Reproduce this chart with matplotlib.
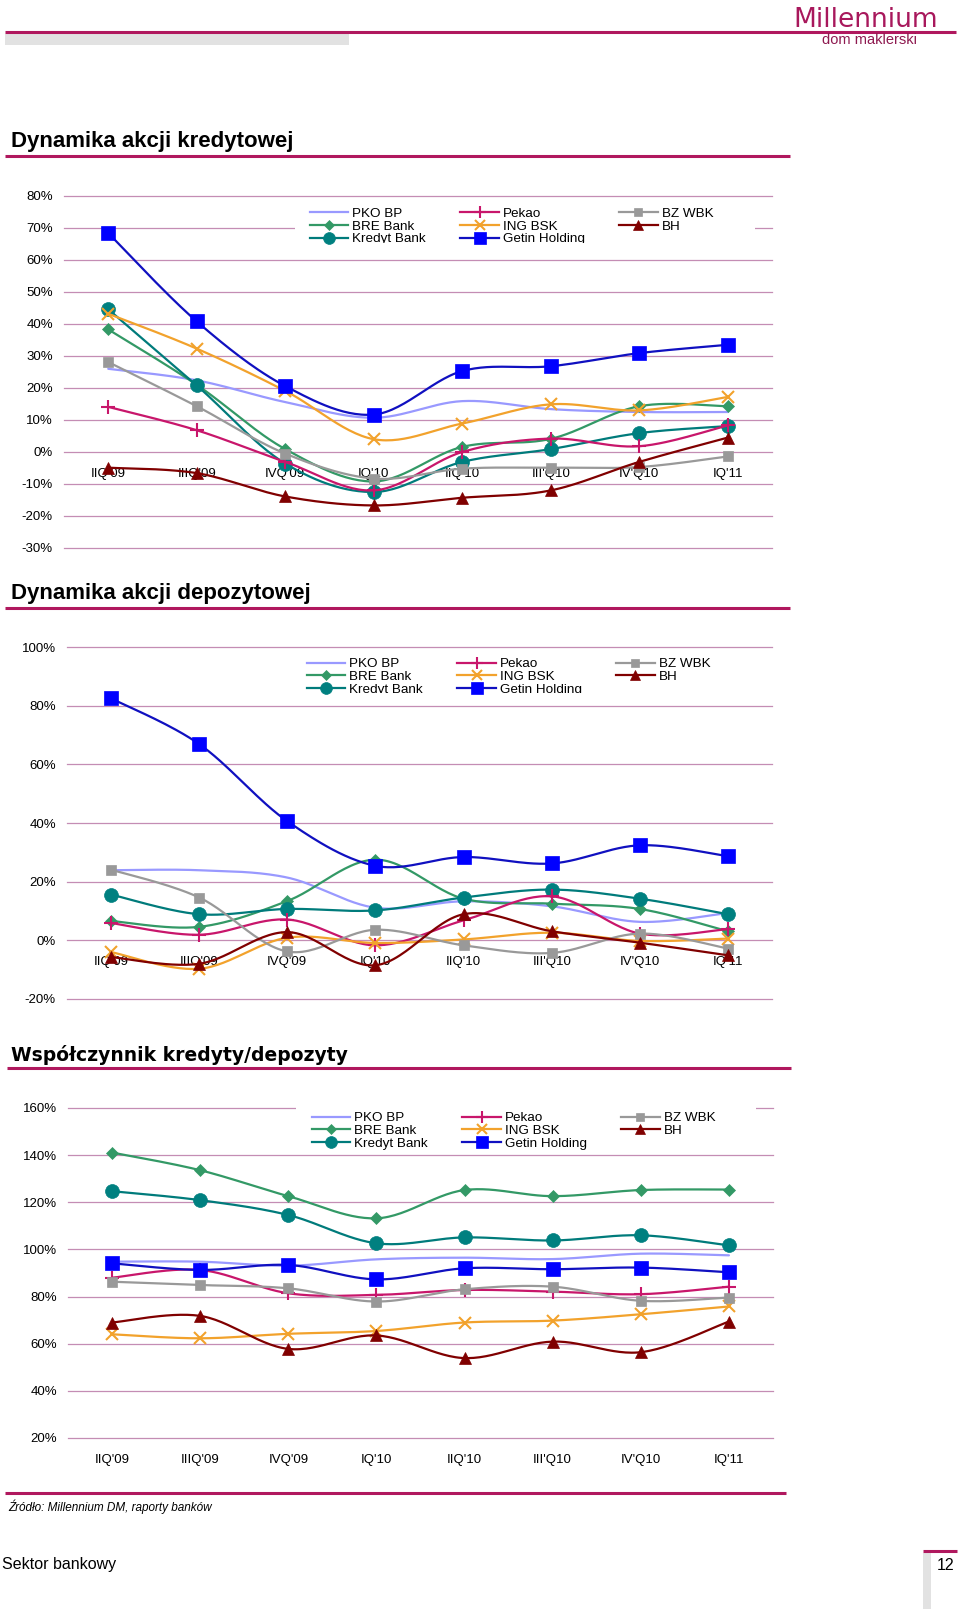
import matplotlib
matplotlib.use("Agg")
import matplotlib.pyplot as plt
import numpy as np
from matplotlib.lines import Line2D
from matplotlib.patches import Rectangle
from matplotlib.transforms import Bbox, TransformedBbox

plt.rcParams['font.family'] = ['Liberation Sans', 'DejaVu Sans']

quarters = ["IIQ'09", "IIIQ'09", "IVQ'09", "IQ'10", "IIQ'10", "III'Q10", "IV'Q10", "IQ'11"]
banks = ["PKO BP", "BRE Bank", "Kredyt Bank", "Pekao", "ING BSK", "Getin Holding", "BZ WBK", "BH"]

# Chart 1: Dynamika akcji kredytowej (%)
pko1 = [26.0, 22.4, 15.6, 10.7, 15.9, 13.4, 12.5, 12.5]
bre1 = [38.3, 21.0, 0.9, -9.2, 1.6, 4.1, 14.3, 14.3]
kredyt1 = [44.6, 20.8, -3.6, -12.5, -3.1, 0.9, 5.9, 8.1]
pekao1 = [14.1, 6.8, -3.1, -12.0, 0.0, 4.2, 1.8, 8.3]
ing1 = [43.2, 32.3, 19.1, 4.0, 8.9, 14.9, 13.0, 17.2]
getin1 = [68.4, 40.8, 20.6, 11.7, 25.3, 26.8, 30.9, 33.5]
bzwbk1 = [28.1, 14.3, -0.5, -8.3, -5.2, -4.9, -4.7, -1.4]
bh1 = [-4.9, -6.6, -13.9, -16.7, -14.3, -12.0, -3.1, 4.5]

# Chart 2: Dynamika akcji depozytowej (%)
pko2 = [23.9, 23.9, 21.4, 11.1, 13.3, 11.6, 6.3, 9.3]
bre2 = [6.6, 4.6, 13.4, 27.5, 14.2, 12.5, 10.7, 3.1]
kredyt2 = [15.6, 8.9, 10.7, 10.2, 14.6, 17.3, 14.2, 8.9]
pekao2 = [5.9, 1.9, 7.1, -1.7, 6.8, 15.0, 2.3, 3.8]
ing2 = [-4.0, -9.7, 0.9, -0.9, 0.3, 2.6, -0.2, 0.6]
getin2 = [82.5, 66.9, 40.6, 25.4, 28.4, 26.2, 32.4, 28.7]
bzwbk2 = [24.1, 14.6, -3.8, 3.6, -1.7, -4.3, 2.3, -2.8]
bh2 = [-5.7, -8.0, 2.8, -8.5, 8.9, 3.1, -0.8, -5.1]

# Chart 3: Wspolczynnik kredyty/depozyty (%)
pko3 = [94.8, 94.8, 93.1, 95.8, 96.5, 95.9, 98.2, 97.5]
bre3 = [141.1, 133.6, 122.6, 113.2, 125.2, 122.6, 125.2, 125.4]
kredyt3 = [124.7, 120.9, 114.6, 102.6, 105.1, 103.8, 106.0, 101.7]
pekao3 = [88.0, 91.3, 81.4, 80.7, 82.8, 82.1, 81.0, 84.2]
ing3 = [64.0, 62.3, 64.2, 65.4, 69.0, 69.8, 72.5, 75.8]
getin3 = [94.1, 91.3, 93.4, 87.3, 92.0, 91.6, 92.3, 90.3]
bzwbk3 = [86.3, 84.9, 83.5, 77.9, 83.1, 84.2, 78.2, 79.6]
bh3 = [69.0, 71.8, 57.8, 63.5, 53.9, 60.9, 56.4, 69.4]

# styles: line color, marker, marker size, marker face, marker edge, mew
styles = [
    dict(color='#9999FF', marker=None, ms=0, mfc='none', mec='none', mew=0),
    dict(color='#339966', marker='D', ms=6.5, mfc='#339966', mec='#339966', mew=0.5),
    dict(color='#007B7B', marker='o', ms=10, mfc='#008080', mec='#008080', mew=0.5),
    dict(color='#C8166B', marker='+', ms=10, mfc='#C8166B', mec='#C8166B', mew=1.5),
    dict(color='#F2A22C', marker='x', ms=8, mfc='#F2A22C', mec='#F2A22C', mew=1.5),
    dict(color='#1010C0', marker='s', ms=10, mfc='#0000FF', mec='#0000FF', mew=0.5),
    dict(color='#999999', marker='s', ms=7.5, mfc='#999999', mec='#999999', mew=0.5),
    dict(color='#800000', marker='^', ms=8.5, mfc='#800000', mec='#800000', mew=0.5),
]

MAG = '#B0185E'
GRID = '#C48DB4'
W, H = 960, 1611

fig = plt.figure(figsize=(9.6, 16.11), dpi=100)


def fx(px):
    return px / W


def fy(py):
    return 1 - py / H


def hline(x0, x1, y, color, lw):
    fig.add_artist(Line2D([fx(x0), fx(x1)], [fy(y), fy(y)], transform=fig.transFigure,
                          color=color, lw=lw, solid_capstyle='butt'))


def rect(x0, y0, x1, y1, color):
    fig.add_artist(Rectangle((fx(x0), fy(y1)), fx(x1) - fx(x0), fy(y0) - fy(y1),
                             transform=fig.transFigure, facecolor=color, edgecolor='none', lw=0))


def smooth(xs, ys, n=30):
    P = np.column_stack([xs, ys]).astype(float)
    m = len(P)
    out = [P[0]]
    t = np.linspace(0, 1, n)[1:, None]
    for i in range(m - 1):
        p0 = P[i - 1] if i > 0 else P[i]
        p1 = P[i]
        p2 = P[i + 1]
        p3 = P[i + 2] if i + 2 < m else P[i + 1]
        c1 = p1 + (p2 - p0) / 6.0
        c2 = p2 - (p3 - p1) / 6.0
        seg = ((1 - t) ** 3) * p1 + 3 * ((1 - t) ** 2) * t * c1 + 3 * (1 - t) * t ** 2 * c2 + t ** 3 * p2
        out.extend(seg)
    out = np.array(out)
    return out[:, 0], out[:, 1]


def draw_chart(box, ylim, step, series, xaxis_at_zero, leg_xy, patch, clip_y=None):
    x0, y0, x1, y1 = box
    ax = fig.add_axes([fx(x0), fy(y1), fx(x1) - fx(x0), fy(y0) - fy(y1)])
    ax.set_xlim(-0.5, 7.5)
    ax.set_ylim(*ylim)
    for s in ax.spines.values():
        s.set_visible(False)
    yt = np.arange(ylim[0], ylim[1] + step / 2, step)
    for v in yt:
        ax.axhline(v, color=GRID, lw=0.9, zorder=0.5, clip_on=False)
    ax.set_yticks(yt)
    ax.set_yticklabels([f"{int(v)}%" for v in yt])
    xs = np.arange(len(quarters))
    ax.set_xticks(xs)
    ax.set_xticklabels(quarters)
    if xaxis_at_zero:
        ax.spines['bottom'].set_position(('data', 0))
    ax.tick_params(axis='both', length=0, labelsize=9.5, colors='black')
    ax.tick_params(axis='y', pad=8)
    ax.tick_params(axis='x', pad=11.5)

    # white background behind legend
    px0, py0, px1, py1 = patch
    ax.add_patch(Rectangle((fx(px0), fy(py1)), fx(px1) - fx(px0), fy(py0) - fy(py1),
                           transform=fig.transFigure, facecolor='white', edgecolor='none',
                           zorder=1, clip_on=False))

    handles = []
    for i, (vals, st) in enumerate(zip(series, styles)):
        z = 2 + i * 0.02
        sx, sy = smooth(xs, vals)
        ax.plot(sx, sy, color=st['color'], lw=1.6, zorder=z, solid_capstyle='round')
        if st['marker']:
            ax.plot(xs, vals, ls='none', marker=st['marker'], ms=st['ms'], mfc=st['mfc'],
                    mec=st['mec'], mew=st['mew'], zorder=z + 0.01)
        handles.append(Line2D([], [], color=st['color'], lw=1.6, marker=st['marker'],
                              ms=st['ms'] * 0.85, mfc=st['mfc'], mec=st['mec'], mew=st['mew']))
    lx, ly = leg_xy
    leg = ax.legend(handles, banks, ncol=3, loc='upper left',
                    bbox_to_anchor=(fx(lx), fy(ly)), bbox_transform=fig.transFigure,
                    frameon=False, fontsize=9.7, handlelength=2.85, handletextpad=0.3,
                    columnspacing=2.55, labelspacing=0.02, borderpad=0, borderaxespad=0,
                    numpoints=1)
    if clip_y is not None:
        cb = TransformedBbox(Bbox([[0, fy(clip_y)], [1, 1]]), fig.transFigure)
        for t in leg.get_texts():
            t.set_clip_box(cb)
            t.set_clip_on(True)
    return ax


# ---- header ----
hline(5, 956, 32, MAG, 2.2)
rect(5, 34, 349, 45, '#E2E2E2')
fig.text(fx(793), fy(20), "Millennium", family='DejaVu Sans', fontsize=19, color='#A8185C',
         ha='left', va='center')
fig.text(fx(870), fy(40), "dom maklerski", fontsize=10.5, color='#8E1A50', ha='center', va='center')

# ---- chart 1 ----
fig.text(fx(11), fy(142), "Dynamika akcji kredytowej", fontsize=16, fontweight='bold',
         ha='left', va='center')
hline(5, 790, 156, MAG, 2.2)
draw_chart((64, 196, 772, 548), (-30, 80), 10,
           [pko1, bre1, kredyt1, pekao1, ing1, getin1, bzwbk1, bh1], True,
           (310, 207.5), (295, 199, 755, 247), clip_y=242.5)

# ---- chart 2 ----
fig.text(fx(11), fy(594), "Dynamika akcji depozytowej", fontsize=16, fontweight='bold',
         ha='left', va='center')
hline(5, 790, 608, MAG, 2.2)
draw_chart((67, 647, 772, 999), (-20, 100), 20,
           [pko2, bre2, kredyt2, pekao2, ing2, getin2, bzwbk2, bh2], True,
           (307, 658), (292, 650, 752, 700), clip_y=693)

# ---- chart 3 ----
fig.text(fx(11), fy(1055), "Współczynnik kredyty/depozyty", family='DejaVu Sans',
         fontsize=13.5, fontweight='bold', ha='left', va='center')
hline(7, 791, 1068, MAG, 2.2)
draw_chart((68, 1108, 773, 1438), (20, 160), 20,
           [pko3, bre3, kredyt3, pekao3, ing3, getin3, bzwbk3, bh3], False,
           (312, 1112), (296, 1101, 756, 1152))

# ---- footer ----
hline(5, 786, 1493, MAG, 2.2)
fig.text(fx(8), fy(1507), "Źródło: Millennium DM, raporty banków", fontsize=8.5,
         style='italic', ha='left', va='center')
fig.text(fx(2), fy(1565), "Sektor bankowy", fontsize=11.5, ha='left', va='center')
hline(923, 957, 1551, MAG, 2.2)
rect(923, 1553, 931, 1609, '#E2E2E2')
fig.text(fx(946), fy(1566), "12", fontsize=11.5, ha='center', va='center')

fig.savefig("out.png", dpi=100)
